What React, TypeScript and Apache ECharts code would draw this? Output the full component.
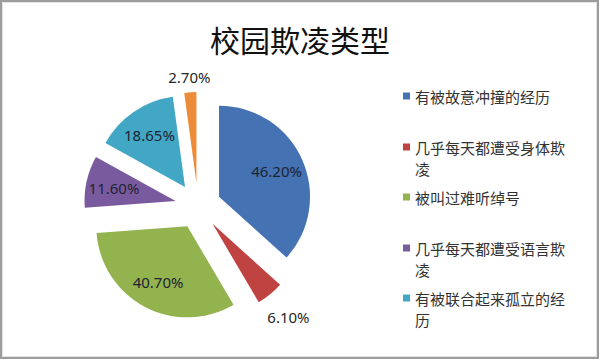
import React, { useEffect, useRef } from 'react';
import * as echarts from 'echarts';

const categories = [
  '有被故意冲撞的经历',
  '几乎每天都遭受身体欺凌',
  '被叫过难听绰号',
  '几乎每天都遭受语言欺凌',
  '有被联合起来孤立的经历',
  '其他',
];
const values = [46.2, 6.1, 40.7, 11.6, 18.65, 2.7];
const colors = ['#4472B3', '#BF4341', '#93B34F', '#7A5A9E', '#42A7C5', '#EC8C38'];
const legendNames = categories.slice(0, 5);
const innerLabelIdx = [0, 2, 3, 4];
const redLabelIdx = [1];
const orangeLabelIdx = [5];
const titleText = '校园欺凌类型';

const WRAP = 10;
// wrapped names get an empty leading line so the icon lines up with the first text line
const wrapName = (n: string) =>
  n.length > WRAP ? '\n' + n.slice(0, WRAP) + '\n' + n.slice(WRAP) : n;

export default function App() {
  const ref = useRef<HTMLDivElement>(null);
  useEffect(() => {
    const chart = echarts.init(ref.current as HTMLDivElement, null, { renderer: 'svg' });
    const center = [198, 206];
    const R = 91;
    const offset = 23;
    const fmt = (p: any) => Number(p.value).toFixed(2) + '%';

    const pieSeries = (
      radius: number[],
      labelIdx: number[],
      visible: boolean,
      labelColor: string
    ) => ({
      type: 'pie',
      center,
      radius,
      startAngle: 90,
      clockwise: true,
      selectedMode: 'multiple',
      selectedOffset: offset,
      silent: true,
      avoidLabelOverlap: false,
      emphasis: { disabled: true },
      labelLine: { show: false },
      label: {
        position: 'inside',
        formatter: fmt,
        fontFamily: 'Noto Sans',
        fontSize: 15,
        color: labelColor,
      },
      data: categories.map((c, i) => ({
        name: c,
        value: values[i],
        selected: true,
        itemStyle: { color: visible ? colors[i] : 'rgba(0,0,0,0)' },
        label: { show: labelIdx.includes(i) },
      })),
    });

    const legendTops = [85.5, 115.5, 186.5, 216.5, 266.5];

    chart.setOption({
      animation: false,
      backgroundColor: '#ffffff',
      color: colors,
      title: {
        text: titleText,
        left: 'center',
        top: 24,
        padding: 0,
        textStyle: {
          fontFamily: 'Noto Sans CJK SC',
          fontSize: 30,
          lineHeight: 30,
          fontWeight: 'normal',
          color: '#111111',
        },
      },
      legend: legendNames.map((n, i) => ({
        left: 403,
        top: legendTops[i],
        orient: 'vertical',
        padding: 0,
        itemWidth: 7,
        itemHeight: 7,
        icon: 'rect',
        selectedMode: false,
        data: [n],
        formatter: wrapName,
        textStyle: {
          fontFamily: 'Noto Sans CJK SC',
          fontSize: 15,
          lineHeight: 21,
          color: '#333333',
        },
      })),
      graphic: [
        {
          type: 'rect',
          shape: { x: 1, y: 1, width: 597, height: 357 },
          style: { fill: 'none', stroke: '#9c9c9c', lineWidth: 2 },
          silent: true,
        },
        {
          type: 'rect',
          shape: { x: 2.5, y: 2.5, width: 594, height: 354 },
          style: { fill: 'none', stroke: '#e2e2e2', lineWidth: 1 },
          silent: true,
        },
      ],
      series: [
        pieSeries([0, R], [], true, '#1d2433'),
        pieSeries([29, R], innerLabelIdx, false, '#1d2433'),
        pieSeries([100, 134], redLabelIdx, false, '#262626'),
        pieSeries([90, 116], orangeLabelIdx, false, '#262626'),
      ],
    });
    return () => chart.dispose();
  }, []);
  return (
    <div
      ref={ref}
      style={{ position: 'fixed', left: 0, top: 0, width: 600, height: 360 }}
    />
  );
}
